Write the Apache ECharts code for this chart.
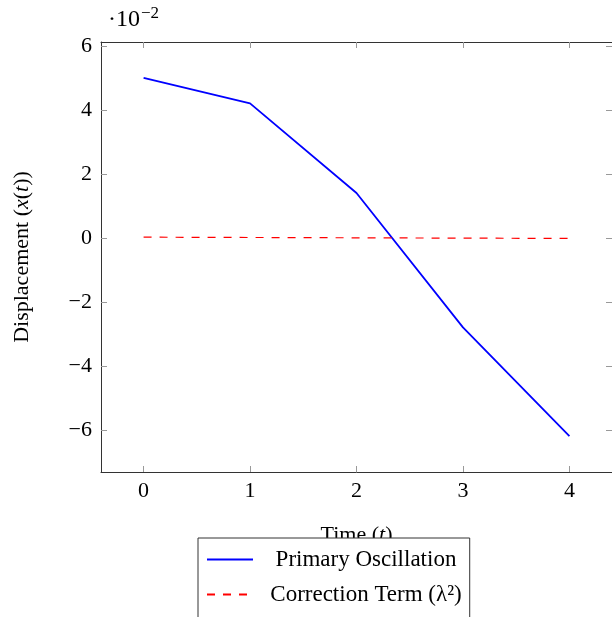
<!DOCTYPE html>
<html><head><meta charset="utf-8">
<script src="https://cdn.jsdelivr.net/npm/echarts@6/dist/echarts.min.js"></script>
<style>html,body{margin:0;padding:0;background:#fff}#c{width:612px;height:617px}</style>
</head><body><div id="c"></div>
<script>
const times = [0, 1, 2, 3, 4];
const primary = [0.050, 0.042, 0.014, -0.028, -0.062];
const correction = [0.0002, 0.0001, 0.0, -0.0001, -0.0002];
const xTicks = [0, 1, 2, 3, 4];
const yTicks = [-0.06, -0.04, -0.02, 0, 0.02, 0.04, 0.06];

const FONT = '"Liberation Serif", "Times New Roman", serif';
const FS = 22;
const chart = echarts.init(document.getElementById('c'), null, {renderer: 'canvas'});
const fmtY = v => { const n = Math.round(v * 100); return n < 0 ? '\u2212' + (-n) : String(n); };
const tickStyle = {show: true, inside: true, length: 6, lineStyle: {color: '#999', width: 1}};
const lineStyleAxis = {show: true, onZero: false, lineStyle: {color: '#333', width: 1}};
const xMin = -0.4, xMax = 4.4, yMin = -0.0732, yMax = 0.0612;
const italic = {i: {fontStyle: 'italic', fontSize: FS, fontFamily: FONT, color: '#000'}};

chart.setOption({
  animation: false,
  textStyle: {fontFamily: FONT},
  grid: {left: 101, top: 42, width: 518, height: 430, containLabel: false},
  xAxis: [
    {type: 'value', position: 'bottom', min: xMin, max: xMax,
     axisLine: lineStyleAxis, splitLine: {show: false},
     axisTick: Object.assign({customValues: xTicks}, tickStyle),
     axisLabel: {customValues: xTicks, margin: 8, color: '#000', fontSize: FS, fontFamily: FONT},
     name: 'Time ({i|t})', nameLocation: 'middle', nameGap: 52,
     nameTextStyle: {color: '#000', fontSize: FS, fontFamily: FONT, rich: italic}
    },
    {type: 'value', position: 'top', min: xMin, max: xMax,
     axisLine: lineStyleAxis, splitLine: {show: false},
     axisTick: Object.assign({customValues: xTicks}, tickStyle),
     axisLabel: {show: false}}
  ],
  yAxis: [
    {type: 'value', position: 'left', min: yMin, max: yMax,
     axisLine: lineStyleAxis, splitLine: {show: false},
     axisTick: Object.assign({customValues: yTicks}, tickStyle),
     axisLabel: {customValues: yTicks, formatter: fmtY, margin: 9, color: '#000', fontSize: FS, fontFamily: FONT},
     name: 'Displacement ({i|x}({i|t}))', nameLocation: 'middle', nameGap: 68, nameRotate: 90,
     nameTextStyle: {color: '#000', fontSize: FS, fontFamily: FONT, rich: italic}
    },
    {type: 'value', position: 'right', min: yMin, max: yMax,
     axisLine: lineStyleAxis, splitLine: {show: false},
     axisTick: Object.assign({customValues: yTicks}, tickStyle),
     axisLabel: {show: false}}
  ],
  legend: {
    orient: 'vertical', left: 198, top: 538, height: 300,
    padding: [10, 8, 40, 8], itemGap: 12,
    itemWidth: 46, itemHeight: 14,
    itemStyle: {opacity: 0},
    borderColor: '#333', borderWidth: 1, backgroundColor: '#fff', borderRadius: 0,
    formatter: name => '{c|' + name + '}',
    textStyle: {fontSize: 23, color: '#000', fontFamily: FONT,
      rich: {c: {fontSize: 23, fontFamily: FONT, color: '#000', width: 216, align: 'center'}}},
    data: ['Primary Oscillation', 'Correction Term (λ²)']
  },
  graphic: [{type: 'text', left: 108, top: 5,
    style: {text: '·10{s|−2}', fontSize: 24, fontFamily: FONT, fill: '#000',
      rich: {s: {fontSize: 17, fontFamily: FONT, verticalAlign: 'top', padding: [0, 0, 12, 1]}}}}],
  series: [
    {name: 'Primary Oscillation', type: 'line', xAxisIndex: 0, yAxisIndex: 0,
     data: times.map((t, i) => [t, primary[i]]), showSymbol: false, symbol: 'none',
     lineStyle: {color: '#0000ff', width: 1.8}, itemStyle: {color: '#0000ff'}},
    {name: 'Correction Term (λ²)', type: 'line', xAxisIndex: 0, yAxisIndex: 0,
     data: times.map((t, i) => [t, correction[i]]), showSymbol: false, symbol: 'none',
     lineStyle: {color: '#ff0000', width: 1.2, type: [8, 8]}, itemStyle: {color: '#ff0000'}}
  ]
});
</script></body></html>
